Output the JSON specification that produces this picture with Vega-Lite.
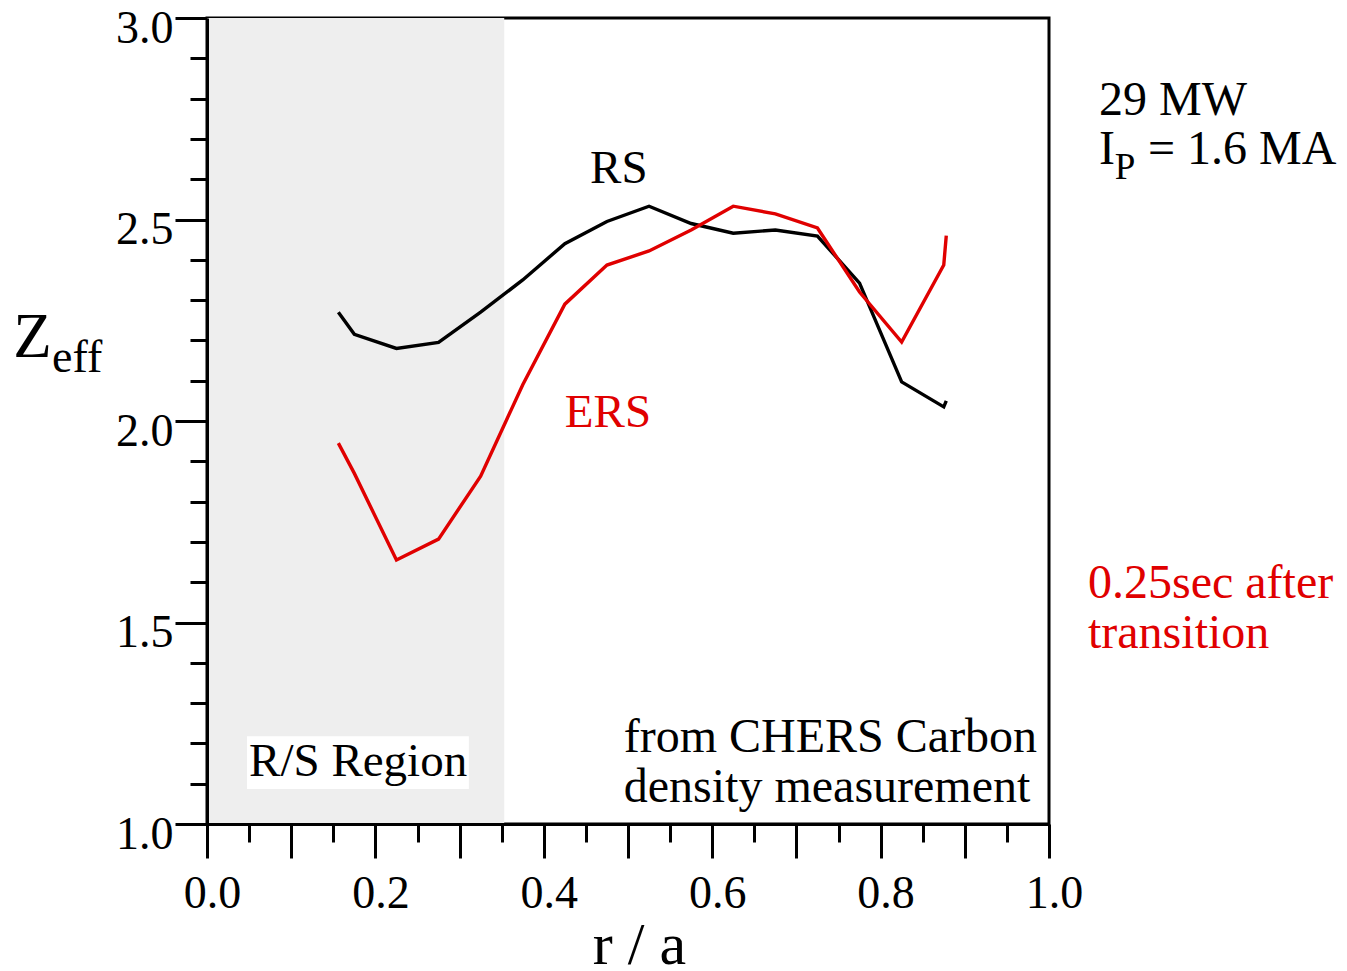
{
  "$schema": "https://vega.github.io/schema/vega-lite/v6.json",
  "width": 842,
  "height": 806,
  "autosize": "none",
  "padding": {"left": 207, "top": 18, "right": 298, "bottom": 147},
  "background": "white",
  "config": {
    "view": {"stroke": "black", "strokeWidth": 3},
    "font": "Liberation Serif",
    "text": {"font": "Liberation Serif", "fontSize": 48, "align": "left", "baseline": "alphabetic"}
  },
  "datasets": {
    "profiles": [
      {"r": 0.156, "zeff": 2.27, "phase": "RS"},
      {"r": 0.175, "zeff": 2.215, "phase": "RS"},
      {"r": 0.225, "zeff": 2.18, "phase": "RS"},
      {"r": 0.275, "zeff": 2.195, "phase": "RS"},
      {"r": 0.325, "zeff": 2.27, "phase": "RS"},
      {"r": 0.375, "zeff": 2.35, "phase": "RS"},
      {"r": 0.425, "zeff": 2.44, "phase": "RS"},
      {"r": 0.475, "zeff": 2.495, "phase": "RS"},
      {"r": 0.525, "zeff": 2.533, "phase": "RS"},
      {"r": 0.575, "zeff": 2.49, "phase": "RS"},
      {"r": 0.625, "zeff": 2.466, "phase": "RS"},
      {"r": 0.675, "zeff": 2.474, "phase": "RS"},
      {"r": 0.725, "zeff": 2.459, "phase": "RS"},
      {"r": 0.775, "zeff": 2.342, "phase": "RS"},
      {"r": 0.825, "zeff": 2.097, "phase": "RS"},
      {"r": 0.875, "zeff": 2.035, "phase": "RS"},
      {"r": 0.878, "zeff": 2.05, "phase": "RS"},
      {"r": 0.156, "zeff": 1.945, "phase": "ERS"},
      {"r": 0.175, "zeff": 1.87, "phase": "ERS"},
      {"r": 0.225, "zeff": 1.655, "phase": "ERS"},
      {"r": 0.275, "zeff": 1.707, "phase": "ERS"},
      {"r": 0.325, "zeff": 1.863, "phase": "ERS"},
      {"r": 0.375, "zeff": 2.09, "phase": "ERS"},
      {"r": 0.425, "zeff": 2.29, "phase": "ERS"},
      {"r": 0.475, "zeff": 2.387, "phase": "ERS"},
      {"r": 0.525, "zeff": 2.422, "phase": "ERS"},
      {"r": 0.575, "zeff": 2.474, "phase": "ERS"},
      {"r": 0.625, "zeff": 2.533, "phase": "ERS"},
      {"r": 0.675, "zeff": 2.514, "phase": "ERS"},
      {"r": 0.725, "zeff": 2.479, "phase": "ERS"},
      {"r": 0.775, "zeff": 2.32, "phase": "ERS"},
      {"r": 0.825, "zeff": 2.196, "phase": "ERS"},
      {"r": 0.875, "zeff": 2.387, "phase": "ERS"},
      {"r": 0.878, "zeff": 2.46, "phase": "ERS"}
    ],
    "notes": [
      {"r": 0.455, "zeff": 2.591, "label": "RS", "size": 47, "color": "black"},
      {"r": 0.425, "zeff": 1.985, "label": "ERS", "size": 47, "color": "red"},
      {"r": 1.0594, "zeff": 2.759, "label": "29 MW", "size": 48, "color": "black"},
      {"r": 1.0594, "zeff": 2.637, "label": "I", "size": 48, "color": "black"},
      {"r": 1.078, "zeff": 2.6, "label": "P", "size": 37, "color": "black"},
      {"r": 1.1176, "zeff": 2.637, "label": "= 1.6 MA", "size": 48, "color": "black"},
      {"r": 1.0463, "zeff": 1.561, "label": "0.25sec after", "size": 48, "color": "red"},
      {"r": 1.0463, "zeff": 1.437, "label": "transition", "size": 48, "color": "red"},
      {"r": 0.495, "zeff": 1.179, "label": "from CHERS Carbon", "size": 48, "color": "black"},
      {"r": 0.495, "zeff": 1.055, "label": "density measurement", "size": 48, "color": "black"},
      {"r": 0.05, "zeff": 1.119, "label": "R/S Region", "size": 47, "color": "black"},
      {"r": -0.23, "zeff": 2.159, "label": "Z", "size": 63, "color": "black"},
      {"r": -0.184, "zeff": 2.122, "label": "eff", "size": 46, "color": "black"}
    ]
  },
  "layer": [
    {
      "data": {"values": [{"r0": 0, "r1": 0.353, "z0": 1, "z1": 3}]},
      "mark": {"type": "rect", "fill": "#eeeeee"},
      "encoding": {
        "x": {"field": "r0", "type": "quantitative", "scale": {"domain": [0, 1], "nice": false, "zero": false},
          "axis": {
            "values": [0, 0.05, 0.1, 0.15, 0.2, 0.25, 0.3, 0.35, 0.4, 0.45, 0.5, 0.55, 0.6, 0.65, 0.7, 0.75, 0.8, 0.85, 0.9, 0.95, 1.0],
            "tickSize": {"condition": {"test": "abs(datum.value*10 - round(datum.value*10)) < 0.001", "value": 34}, "value": 18},
            "tickWidth": 3, "tickColor": "black",
            "domainColor": "black", "domainWidth": 3,
            "grid": false, "zindex": 1,
            "labelExpr": "abs(datum.value*5 - round(datum.value*5)) < 0.001 ? format(datum.value, '.1f') : ''",
            "labelFont": "Liberation Serif", "labelFontSize": 46, "labelColor": "black",
            "labelBaseline": "alphabetic", "labelPadding": 49, "labelOffset": 5,
            "labelOverlap": false, "labelFlush": false, "labelBound": false,
            "title": "r / a", "titleFont": "Liberation Serif", "titleFontSize": 60, "titleFontWeight": "normal",
            "titleColor": "black", "titleBaseline": "alphabetic", "titleAlign": "center", "titleAnchor": "start",
            "titleX": 432, "titleY": 139
          }},
        "x2": {"field": "r1"},
        "y": {"field": "z0", "type": "quantitative", "scale": {"domain": [1, 3], "nice": false, "zero": false},
          "axis": {
            "values": [1.0, 1.1, 1.2, 1.3, 1.4, 1.5, 1.6, 1.7, 1.8, 1.9, 2.0, 2.1, 2.2, 2.3, 2.4, 2.5, 2.6, 2.7, 2.8, 2.9, 3.0],
            "tickSize": {"condition": {"test": "abs(datum.value*2 - round(datum.value*2)) < 0.001", "value": 32}, "value": 17},
            "tickWidth": 3, "tickColor": "black",
            "domainColor": "black", "domainWidth": 3,
            "grid": false, "zindex": 1,
            "labelExpr": "abs(datum.value*2 - round(datum.value*2)) < 0.001 ? format(datum.value, '.1f') : ''",
            "labelFont": "Liberation Serif", "labelFontSize": 46, "labelColor": "black",
            "labelBaseline": "alphabetic", "labelPadding": 2, "labelOffset": 24,
            "labelOverlap": false, "labelFlush": false, "labelBound": false,
            "title": null
          }},
        "y2": {"field": "z1"}
      }
    },
    {
      "data": {"values": [{"r0": 0.0475, "r1": 0.311, "z0": 1.087, "z1": 1.218}]},
      "mark": {"type": "rect", "fill": "white"},
      "encoding": {
        "x": {"field": "r0", "type": "quantitative"},
        "x2": {"field": "r1"},
        "y": {"field": "z0", "type": "quantitative"},
        "y2": {"field": "z1"}
      }
    },
    {
      "data": {"name": "profiles"},
      "mark": {"type": "line", "strokeWidth": 3.4, "clip": true},
      "encoding": {
        "x": {"field": "r", "type": "quantitative"},
        "y": {"field": "zeff", "type": "quantitative"},
        "detail": {"field": "phase"},
        "color": {"field": "phase", "type": "nominal", "scale": {"domain": ["RS", "ERS"], "range": ["black", "#e00000"]}, "legend": null}
      }
    },
    {
      "data": {"name": "notes"},
      "mark": {"type": "text"},
      "encoding": {
        "x": {"field": "r", "type": "quantitative"},
        "y": {"field": "zeff", "type": "quantitative"},
        "text": {"field": "label"},
        "size": {"field": "size", "type": "quantitative", "scale": null},
        "color": {"field": "color", "type": "nominal", "scale": {"domain": ["black", "red"], "range": ["black", "#e00000"]}, "legend": null}
      }
    }
  ]
}
